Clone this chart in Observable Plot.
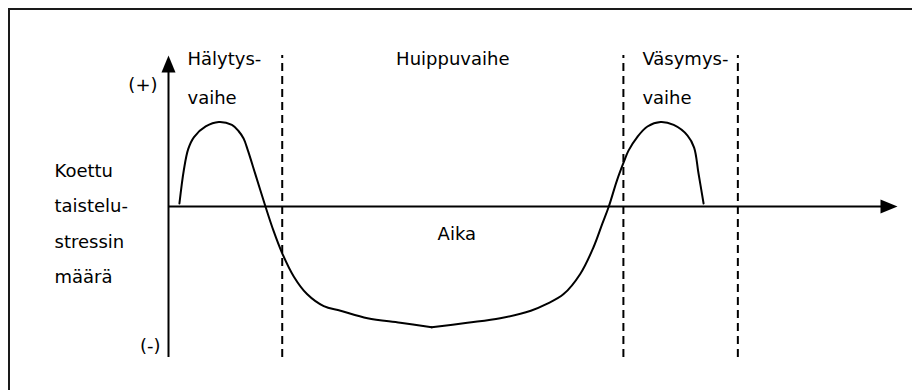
<!DOCTYPE html>
<html>
<head>
<meta charset="utf-8">
<script src="https://cdn.jsdelivr.net/npm/d3@7"></script>
<script src="https://cdn.jsdelivr.net/npm/@observablehq/plot@0.6"></script>
<style>
  html, body { margin: 0; padding: 0; background: #fff; }
  #wrap { position: relative; width: 912px; height: 390px; overflow: hidden; }
  #frame { position: absolute; left: 8px; top: 8px; width: 904px; height: 382px;
           border-top: 2px solid #1a1a1a; border-left: 2px solid #1a1a1a; pointer-events: none; }
  svg { position: absolute; left: 0; top: 0; }
</style>
</head>
<body>
<div id="wrap"><div id="frame"></div></div>
<script>
// ---- data ----
// phase boundaries along the time axis (0..100)
const phaseBounds = [15.6, 62.4, 78.1];
const phaseLabels = ["Hälytys-\nvaihe", "Huippuvaihe", "Väsymys-\nvaihe"];
const yAxisLabel = "Koettu\ntaistelu-\nstressin\nmäärä";
const xAxisLabel = "Aika";
const yTickLabels = ["(+)", "(-)"];

// experienced stress curve (time, level), two pieces meeting at the cusp
const curveT1 = [1.5, 2.1, 2.7, 3.5, 5.1, 6.9, 8.7, 9.6, 10.3, 10.9, 11.9, 13.3, 14.4, 15.6, 17.2, 19.0, 21.3, 23.6, 27.3, 31.8, 36.1];
const curveV1 = [0.02, 0.24, 0.38, 0.46, 0.53, 0.56, 0.54, 0.50, 0.45, 0.37, 0.216, 0.0, -0.16, -0.31, -0.465, -0.58, -0.66, -0.69, -0.74, -0.77, -0.80];
const curveT2 = [36.1, 41.0, 45.5, 49.7, 51.9, 54.2, 56.5, 58.3, 59.5, 60.4, 61.5, 62.5, 63.1, 64.3, 65.7, 67.5, 69.3, 71.2, 72.1, 72.7, 73.4];
const curveV2 = [-0.80, -0.77, -0.74, -0.69, -0.645, -0.58, -0.445, -0.27, -0.115, 0.0, 0.17, 0.30, 0.37, 0.46, 0.53, 0.56, 0.54, 0.47, 0.39, 0.22, 0.02];

// ---- build tables ----
const curve = [
  ...curveT1.map((t, i) => ({t, v: curveV1[i], seg: 1})),
  ...curveT2.map((t, i) => ({t, v: curveV2[i], seg: 2}))
];
const xDomain = [0, 100];
const yDomain = [-1, 1];
const starts = [xDomain[0], ...phaseBounds];
const phases = phaseLabels.map((label, i) => ({
  label, start: starts[i], end: phaseBounds[i], mid: (starts[i] + phaseBounds[i]) / 2,
  multi: label.includes("\n")
}));

const arrowHead = {
  draw(ctx) { ctx.moveTo(0, 0); ctx.lineTo(-7, 17); ctx.lineTo(7, 17); ctx.closePath(); }
};

const font = "DejaVu Sans";
const fs = 18;

const chart = Plot.plot({
  width: 912,
  height: 390,
  marginLeft: 168,
  marginRight: 15,
  marginTop: 55,
  marginBottom: 33,
  x: {domain: xDomain, axis: null},
  y: {domain: yDomain, axis: null},
  style: {fontFamily: font, fontSize: fs + "px", background: "transparent", color: "#000"},
  marks: [
    // dashed phase boundaries
    Plot.ruleX(phaseBounds, {y1: yDomain[0], y2: yDomain[1], stroke: "#000", strokeWidth: 2, strokeDasharray: "8,5"}),
    // axes
    Plot.ruleY([0], {x1: xDomain[0], x2: xDomain[1] - 1, stroke: "#000", strokeWidth: 2}),
    Plot.ruleX([0], {y1: yDomain[0], y2: yDomain[1] - 0.05, stroke: "#000", strokeWidth: 2}),
    Plot.dot([0], {x: xDomain[1], y: 0, symbol: arrowHead, fill: "#000", stroke: null, rotate: 90}),
    Plot.dot([0], {x: 0, y: yDomain[1], symbol: arrowHead, fill: "#000", stroke: null}),
    // curve
    Plot.line(curve, {x: "t", y: "v", z: "seg", curve: "catmull-rom", stroke: "#000", strokeWidth: 2}),
    // phase labels
    Plot.text(phases.filter(d => d.multi), {x: "start", y: yDomain[1], text: "label", textAnchor: "start",
      lineAnchor: "top", dx: 19, dy: -19, lineHeight: 2.2, fontSize: fs, fill: "#000"}),
    Plot.text(phases.filter(d => !d.multi), {x: "mid", y: yDomain[1], text: "label", textAnchor: "middle",
      lineAnchor: "top", dy: -19, lineHeight: 2.2, fontSize: fs, fill: "#000"}),
    // y tick labels
    Plot.text([yTickLabels[0]], {x: 0, y: yDomain[1], text: d => d, textAnchor: "end", dx: -11, dy: 30, fontSize: fs, fill: "#000"}),
    Plot.text([yTickLabels[1]], {x: 0, y: yDomain[0], text: d => d, textAnchor: "end", dx: -8, dy: -11, fontSize: fs, fill: "#000"}),
    // axis labels
    Plot.text([yAxisLabel], {x: 0, y: 0, text: d => d, textAnchor: "start", dx: -114, dy: 12,
      lineAnchor: "middle", lineHeight: 1.97, fontSize: fs, fill: "#000"}),
    Plot.text([xAxisLabel], {x: phases[1].mid, y: 0, text: d => d, textAnchor: "middle", dx: 4, dy: 28, fontSize: fs, fill: "#000"})
  ]
});
document.getElementById("wrap").prepend(chart);
</script>
</body>
</html>
